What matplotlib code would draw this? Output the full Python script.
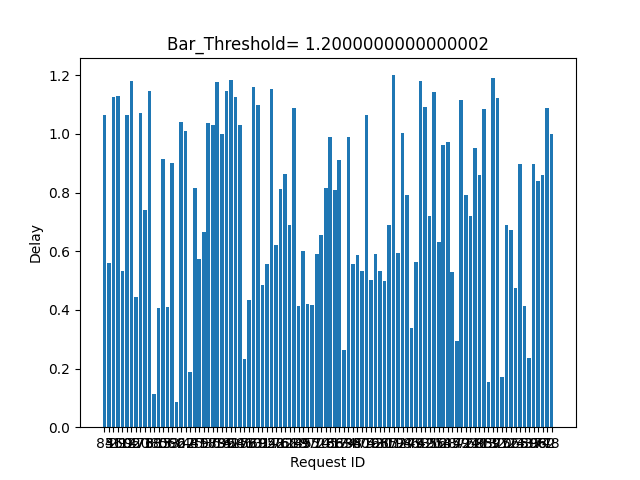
import numpy as np
import matplotlib
matplotlib.use("Agg")
import matplotlib.pyplot as plt

threshold = 1.2000000000000002

request_ids = [84, 3, 51, 29, 60, 12, 95, 47, 20, 71, 6, 38, 80, 15, 56, 33, 90, 2, 67, 44,
               25, 81, 9, 58, 36, 73, 18, 99, 41, 64, 27, 86, 53, 10, 69, 31, 92, 5, 48, 76,
               22, 61, 14, 83, 39, 97, 55, 1, 70, 26, 45, 88, 17, 63, 34, 94, 8, 50, 75, 19,
               42, 66, 30, 87, 11, 57, 98, 24, 46, 79, 4, 62, 35, 91, 16, 54, 28, 85, 7, 49,
               72, 21, 68, 40, 93, 13, 59, 32, 77, 0, 52, 23, 65, 43, 89, 37, 96, 74, 82, 78]

delays = [1.064, 0.559, 1.125, 1.128, 0.532, 1.064, 1.180, 0.443, 1.070, 0.740,
          1.145, 0.112, 0.406, 0.914, 0.409, 0.900, 0.085, 1.040, 1.009, 0.188,
          0.815, 0.573, 0.665, 1.036, 1.030, 1.176, 0.999, 1.145, 1.183, 1.125,
          1.030, 0.232, 0.433, 1.159, 1.098, 0.484, 0.556, 1.152, 0.620, 0.811,
          0.862, 0.689, 1.087, 0.412, 0.600, 0.419, 0.416, 0.590, 0.654, 0.815,
          0.989, 0.808, 0.910, 0.262, 0.989, 0.556, 0.586, 0.532, 1.064, 0.501,
          0.590, 0.532, 0.498, 0.689, 1.200, 0.593, 1.002, 0.791, 0.337, 0.562,
          1.180, 1.091, 0.719, 1.142, 0.631, 0.961, 0.972, 0.528, 0.293, 1.115,
          0.791, 0.719, 0.951, 0.859, 1.084, 0.153, 1.190, 1.122, 0.170, 0.689,
          0.672, 0.474, 0.897, 0.412, 0.235, 0.897, 0.839, 0.859, 1.087, 0.999]

x = np.arange(len(delays))
plt.figure(figsize=(6.4, 4.8), dpi=100)
plt.bar(x, delays, tick_label=[str(i) for i in request_ids])
plt.title("Bar_Threshold= " + str(threshold))
plt.xlabel("Request ID")
plt.ylabel("Delay")
plt.savefig("out.png")
